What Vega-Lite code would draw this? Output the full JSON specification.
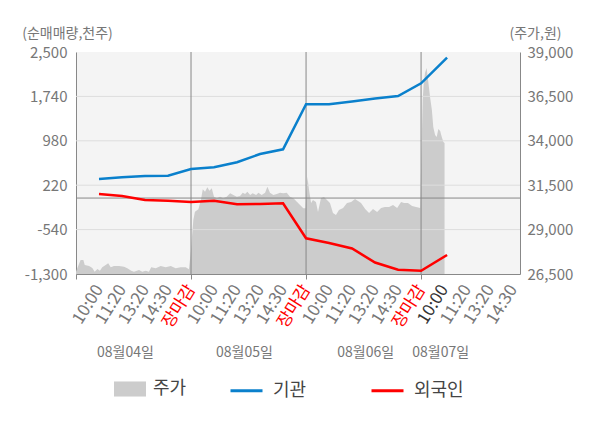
{
  "$schema": "https://vega.github.io/schema/vega-lite/v6.json",
  "width": 444,
  "height": 222,
  "autosize": "none",
  "padding": {"left": 76, "top": 52, "right": 80, "bottom": 154},
  "background": "white",
  "datasets": {
    "price": [
      {"u": 0, "p": 26630}, {"u": 0.06, "p": 26838}, {"u": 0.2, "p": 27288}, {"u": 0.32, "p": 27288},
      {"u": 0.38, "p": 27007}, {"u": 0.57, "p": 26950}, {"u": 0.71, "p": 26838}, {"u": 0.81, "p": 26630},
      {"u": 0.93, "p": 26782}, {"u": 1.04, "p": 26686}, {"u": 1.14, "p": 26877}, {"u": 1.29, "p": 27007},
      {"u": 1.4, "p": 27102}, {"u": 1.51, "p": 26877}, {"u": 1.65, "p": 26950}, {"u": 1.87, "p": 26950},
      {"u": 2.09, "p": 26911}, {"u": 2.23, "p": 26821}, {"u": 2.4, "p": 26686}, {"u": 2.52, "p": 26630},
      {"u": 2.74, "p": 26725}, {"u": 2.88, "p": 26630}, {"u": 3.03, "p": 26686}, {"u": 3.17, "p": 26630},
      {"u": 3.27, "p": 26877}, {"u": 3.47, "p": 26821}, {"u": 3.68, "p": 26950}, {"u": 3.9, "p": 26877},
      {"u": 4.12, "p": 26950}, {"u": 4.33, "p": 26821}, {"u": 4.55, "p": 26877}, {"u": 4.77, "p": 26877},
      {"u": 4.91, "p": 26765}, {"u": 4.99, "p": 27756}, {"u": 5.1, "p": 29540}, {"u": 5.17, "p": 30008},
      {"u": 5.32, "p": 30143}, {"u": 5.43, "p": 30666}, {"u": 5.51, "p": 31269}, {"u": 5.61, "p": 31134},
      {"u": 5.71, "p": 31381}, {"u": 5.8, "p": 31190}, {"u": 5.9, "p": 31325}, {"u": 6.0, "p": 30852},
      {"u": 6.12, "p": 30762}, {"u": 6.26, "p": 30852}, {"u": 6.4, "p": 30762}, {"u": 6.55, "p": 30852},
      {"u": 6.7, "p": 31043}, {"u": 6.84, "p": 30948}, {"u": 6.99, "p": 30852}, {"u": 7.13, "p": 30891},
      {"u": 7.25, "p": 31077}, {"u": 7.35, "p": 31004}, {"u": 7.45, "p": 31134}, {"u": 7.57, "p": 30948},
      {"u": 7.68, "p": 31043}, {"u": 7.83, "p": 30948}, {"u": 7.93, "p": 31077}, {"u": 8.07, "p": 30948},
      {"u": 8.22, "p": 31077}, {"u": 8.32, "p": 31415}, {"u": 8.43, "p": 31077}, {"u": 8.58, "p": 30948},
      {"u": 8.73, "p": 31004}, {"u": 8.87, "p": 31077}, {"u": 9.01, "p": 31043}, {"u": 9.16, "p": 31077},
      {"u": 9.3, "p": 30852}, {"u": 9.45, "p": 30762}, {"u": 9.6, "p": 30571}, {"u": 9.74, "p": 30385},
      {"u": 9.88, "p": 30199}, {"u": 9.98, "p": 30199}, {"u": 10.06, "p": 31978}, {"u": 10.13, "p": 31229},
      {"u": 10.22, "p": 30497}, {"u": 10.3, "p": 30666}, {"u": 10.43, "p": 30554}, {"u": 10.52, "p": 29991},
      {"u": 10.65, "p": 30779}, {"u": 10.78, "p": 30835}, {"u": 10.91, "p": 30666}, {"u": 11.04, "p": 30497},
      {"u": 11.17, "p": 29934}, {"u": 11.3, "p": 29822}, {"u": 11.43, "p": 30103}, {"u": 11.61, "p": 30216},
      {"u": 11.78, "p": 30497}, {"u": 11.96, "p": 30554}, {"u": 12.13, "p": 30723}, {"u": 12.26, "p": 30610},
      {"u": 12.39, "p": 30497}, {"u": 12.57, "p": 30160}, {"u": 12.74, "p": 29934}, {"u": 12.91, "p": 30160},
      {"u": 13.09, "p": 29991}, {"u": 13.26, "p": 30216}, {"u": 13.43, "p": 30272}, {"u": 13.61, "p": 30272},
      {"u": 13.78, "p": 30385}, {"u": 13.96, "p": 30216}, {"u": 14.13, "p": 30554}, {"u": 14.26, "p": 30497},
      {"u": 14.43, "p": 30497}, {"u": 14.61, "p": 30328}, {"u": 14.78, "p": 30272}, {"u": 14.96, "p": 30216},
      {"u": 15.07, "p": 36296}, {"u": 15.11, "p": 37141}, {"u": 15.17, "p": 37816}, {"u": 15.24, "p": 38098},
      {"u": 15.32, "p": 37253}, {"u": 15.39, "p": 36465}, {"u": 15.47, "p": 35733}, {"u": 15.53, "p": 34776},
      {"u": 15.61, "p": 34326}, {"u": 15.68, "p": 34213}, {"u": 15.75, "p": 34664}, {"u": 15.83, "p": 34551},
      {"u": 15.9, "p": 34213}, {"u": 15.97, "p": 33932}, {"u": 16.02, "p": 33876}
    ],
    "flow": [
      {"u": 1, "s": "기관", "v": 326}, {"u": 2, "s": "기관", "v": 355}, {"u": 3, "s": "기관", "v": 377},
      {"u": 4, "s": "기관", "v": 383}, {"u": 5, "s": "기관", "v": 497}, {"u": 6, "s": "기관", "v": 526},
      {"u": 7, "s": "기관", "v": 612}, {"u": 8, "s": "기관", "v": 754}, {"u": 9, "s": "기관", "v": 834},
      {"u": 10, "s": "기관", "v": 1605}, {"u": 11, "s": "기관", "v": 1605}, {"u": 12, "s": "기관", "v": 1653},
      {"u": 13, "s": "기관", "v": 1704}, {"u": 14, "s": "기관", "v": 1747}, {"u": 15, "s": "기관", "v": 1964},
      {"u": 16.13, "s": "기관", "v": 2405},
      {"u": 1, "s": "외국인", "v": 69}, {"u": 2, "s": "외국인", "v": 35}, {"u": 3, "s": "외국인", "v": -33},
      {"u": 4, "s": "외국인", "v": -45}, {"u": 5, "s": "외국인", "v": -68}, {"u": 6, "s": "외국인", "v": -45},
      {"u": 7, "s": "외국인", "v": -107}, {"u": 8, "s": "외국인", "v": -102}, {"u": 9, "s": "외국인", "v": -90},
      {"u": 10, "s": "외국인", "v": -689}, {"u": 11, "s": "외국인", "v": -769}, {"u": 12, "s": "외국인", "v": -864},
      {"u": 13, "s": "외국인", "v": -1103}, {"u": 14, "s": "외국인", "v": -1226}, {"u": 15, "s": "외국인", "v": -1244},
      {"u": 16.13, "s": "외국인", "v": -975}
    ]
  },
  "layer": [
    {
      "data": {"name": "price"},
      "mark": {"type": "area", "color": "#cccccc", "clip": true},
      "encoding": {
        "x": {
          "field": "u", "type": "quantitative",
          "scale": {"domain": [0, 19.3], "nice": false, "zero": false},
          "axis": {
            "orient": "bottom", "title": null, "grid": false, "zindex": 1,
            "values": [0, 1, 2, 3, 4, 5, 6, 7, 8, 9, 10, 11, 12, 13, 14, 15, 16, 17, 18, 19],
            "labelExpr": "datum.value == 0 ? '' : ['장마감', '10:00', '11:20', '13:20', '14:30'][datum.value % 5]",
            "labelAngle": -58, "labelFontSize": 17, "labelPadding": 7,
            "labelOverlap": false, "labelBound": false, "labelFlush": false,
            "labelColor": {
              "condition": [
                {"test": "datum.value % 5 == 0", "value": "#ff0000"},
                {"test": "datum.value == 16", "value": "#333333"}
              ],
              "value": "#777777"
            },
            "ticks": true, "tickSize": 5, "tickColor": "#888888",
            "tickOpacity": {"condition": {"test": "datum.value % 5 == 0", "value": 1}, "value": 0},
            "domainColor": "#888888"
          }
        },
        "y": {
          "field": "p", "type": "quantitative",
          "scale": {"domain": [26500, 39000], "nice": false, "zero": false},
          "axis": {
            "orient": "right", "grid": false, "ticks": false,
            "values": [26500, 29000, 31500, 34000, 36500, 39000],
            "labelExpr": "format(datum.value, ',')",
            "labelFontSize": 15, "labelColor": "#777777", "labelPadding": 7,
            "domainColor": "#888888",
            "title": "(주가,원)", "titleAngle": 0, "titleX": 15, "titleY": -19,
            "titleAlign": "center", "titleBaseline": "middle",
            "titleFontSize": 14, "titleFontWeight": "normal", "titleColor": "#777777"
          }
        },
        "fill": {
          "datum": "주가", "type": "nominal",
          "scale": {"domain": ["주가"], "range": ["#cccccc"]},
          "legend": {
            "orient": "none", "legendX": 38, "legendY": 321, "title": null,
            "symbolType": "M-1,-0.47H1V0.47H-1Z", "symbolSize": 1024, "symbolStrokeWidth": 0,
            "symbolOpacity": 1, "labelFontSize": 18, "labelColor": "#444444", "labelOffset": 7
          }
        }
      }
    },
    {
      "data": {"values": [{"g": -540}, {"g": 220}, {"g": 980}, {"g": 1740}]},
      "mark": {"type": "rule", "color": "#dddddd", "strokeWidth": 1},
      "encoding": {
        "y": {"field": "g", "type": "quantitative", "scale": {"domain": [-1300, 2500], "nice": false, "zero": false}, "axis": null}
      }
    },
    {
      "data": {"values": [{"u": 5}, {"u": 10}, {"u": 15}]},
      "mark": {"type": "rule", "color": "#888888", "strokeWidth": 1},
      "encoding": {
        "x": {"field": "u", "type": "quantitative", "scale": {"domain": [0, 19.3], "nice": false, "zero": false}, "axis": null}
      }
    },
    {
      "data": {"values": [{"z": 0}]},
      "mark": {"type": "rule", "color": "#888888", "strokeWidth": 1},
      "encoding": {
        "y": {"field": "z", "type": "quantitative", "scale": {"domain": [-1300, 2500], "nice": false, "zero": false}, "axis": null}
      }
    },
    {
      "data": {"name": "flow"},
      "mark": {"type": "line", "strokeWidth": 2.5},
      "encoding": {
        "x": {
          "field": "u", "type": "quantitative",
          "scale": {"domain": [0, 19.3], "nice": false, "zero": false},
          "axis": {
            "orient": "bottom", "title": null, "grid": false, "domain": false, "ticks": false,
            "values": [2.13, 7.3, 12.57, 15.83],
            "labelExpr": "datum.value < 5 ? '08월04일' : datum.value < 10 ? '08월05일' : datum.value < 15 ? '08월06일' : '08월07일'",
            "labelAngle": 0, "labelFontSize": 14, "labelColor": "#777777", "labelPadding": 71,
            "labelOverlap": false, "labelBound": false, "labelFlush": false
          }
        },
        "y": {
          "field": "v", "type": "quantitative",
          "scale": {"domain": [-1300, 2500], "nice": false, "zero": false},
          "axis": {
            "orient": "left", "grid": false, "ticks": false,
            "values": [-1300, -540, 220, 980, 1740, 2500],
            "labelExpr": "replace(format(datum.value, ','), '\u2212', '-')",
            "labelFontSize": 15, "labelColor": "#777777", "labelPadding": 9,
            "domainColor": "#888888",
            "title": "(순매매량,천주)", "titleAngle": 0, "titleX": -9, "titleY": -19,
            "titleAlign": "center", "titleBaseline": "middle",
            "titleFontSize": 14, "titleFontWeight": "normal", "titleColor": "#777777"
          }
        },
        "stroke": {
          "field": "s", "type": "nominal",
          "scale": {"domain": ["기관", "외국인"], "range": ["#0a80cc", "#ff0000"]},
          "legend": {
            "orient": "none", "legendX": 153, "legendY": 321, "title": null, "direction": "horizontal",
            "symbolType": "stroke", "symbolSize": 1024, "symbolStrokeWidth": 3,
            "labelFontSize": 18, "labelColor": "#444444", "labelOffset": 9, "columnPadding": 58
          }
        }
      }
    }
  ],
  "resolve": {"scale": {"x": "independent", "y": "independent"}},
  "config": {
    "font": "Noto Sans CJK KR",
    "view": {"fill": "#f4f4f4", "stroke": null},
    "axis": {"labelFont": "Noto Sans CJK KR", "titleFont": "Noto Sans CJK KR"},
    "legend": {"labelFont": "Noto Sans CJK KR", "padding": 0}
  }
}
